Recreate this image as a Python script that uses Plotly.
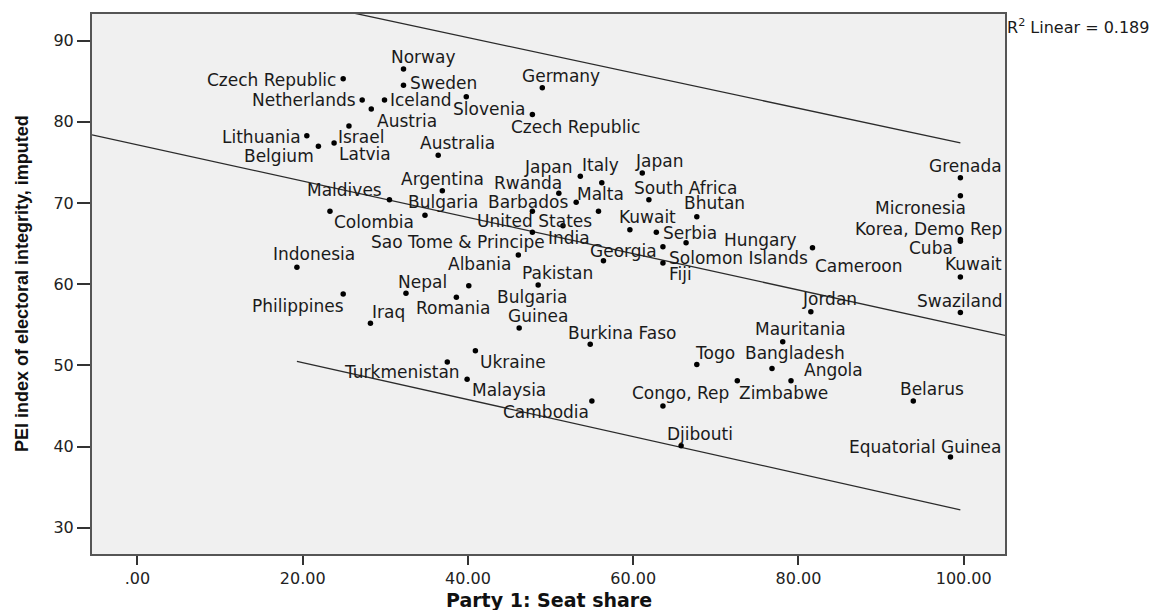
import plotly.graph_objects as go

# ---------------- data ----------------
countries = [
    "Norway", "Czech Republic", "Sweden", "Netherlands", "Iceland", "Slovenia",
    "Austria", "Czech Republic", "Germany", "Lithuania", "Israel", "Belgium",
    "Latvia", "Australia", "Argentina", "Maldives", "Bulgaria", "Barbados",
    "Colombia", "Japan", "Italy", "Rwanda", "Malta", "United States", "India",
    "Sao Tome & Principe", "Japan", "South Africa", "Bhutan", "Kuwait", "Serbia",
    "Hungary", "Georgia", "Solomon Islands", "Fiji", "Cameroon", "Indonesia",
    "Albania", "Pakistan", "Nepal", "Romania", "Bulgaria", "Philippines", "Iraq",
    "Guinea", "Burkina Faso", "Ukraine", "Turkmenistan", "Malaysia", "Cambodia",
    "Grenada", "Micronesia", "Korea, Demo Rep", "Cuba", "Kuwait", "Jordan",
    "Swaziland", "Mauritania", "Togo", "Bangladesh", "Angola", "Congo, Rep",
    "Zimbabwe", "Belarus", "Djibouti", "Equatorial Guinea",
]
seat_share = [
    32.2, 24.9, 32.2, 27.2, 29.9, 39.8,
    28.3, 47.8, 49.0, 20.5, 25.6, 21.9,
    23.8, 36.4, 36.9, 30.5, 34.8, 53.1,
    23.3, 53.6, 56.2, 51.0, 55.8, 47.8, 51.5,
    47.8, 61.1, 61.9, 67.7, 59.6, 62.8,
    66.4, 56.4, 63.6, 63.6, 81.7, 19.3,
    46.1, 48.5, 32.5, 38.6, 40.1, 24.9, 28.2,
    46.2, 54.8, 40.9, 37.5, 39.9, 55.0,
    99.6, 99.6, 99.6, 99.6, 99.6, 81.5,
    99.6, 78.1, 67.7, 76.8, 79.1, 63.6,
    72.6, 93.9, 65.8, 98.4,
]
pei_index = [
    86.5, 85.3, 84.5, 82.7, 82.7, 83.1,
    81.6, 80.9, 84.2, 78.3, 79.5, 77.0,
    77.4, 75.9, 71.5, 70.4, 68.5, 70.1,
    69.0, 73.3, 72.5, 71.2, 69.0, 69.0, 67.2,
    66.4, 73.7, 70.4, 68.3, 66.7, 66.4,
    65.1, 62.9, 64.6, 62.6, 64.5, 62.1,
    63.6, 59.9, 58.9, 58.4, 59.8, 58.8, 55.2,
    54.6, 52.6, 51.8, 50.4, 48.3, 45.6,
    73.1, 70.9, 65.5, 65.3, 60.9, 56.6,
    56.5, 52.9, 50.1, 49.6, 48.1, 45.0,
    48.1, 45.6, 40.1, 38.7,
]

# fit line and prediction-interval lines
fit_x = [-5.5, 105.0]
fit_y = [78.4, 53.7]
upper_x = [19.3, 99.6]
upper_y = [94.9, 77.4]
lower_x = [19.3, 99.6]
lower_y = [50.5, 32.2]
r2_value = 0.189

x_tickvals = [0, 20, 40, 60, 80, 100]
x_ticktext = [".00", "20.00", "40.00", "60.00", "80.00", "100.00"]
y_tickvals = [30, 40, 50, 60, 70, 80, 90]

# ---------------- label placement style (pixel offsets from each dot) ----
# (anchor, dx, dy) : anchor = which edge of the label sits at dot+dx; dy is downward px
label_style = [
    ("c", 20, -12), ("r", -5, 1), ("l", 5, -2), ("r", -4, 0), ("l", 4, 0), ("c", 23, 12),
    ("l", 4, 12), ("c", 43, 12), ("c", 19, -12), ("r", -4, 1), ("c", 12, 11), ("c", -39, 10),
    ("c", 31, 11), ("c", 19, -12), ("c", 0, -12), ("c", -45, -10), ("c", 19, -13), ("r", -6, 0),
    ("l", 2, 11), ("r", -6, -9), ("c", -1, -18), ("c", -31, -10), ("c", 2, -17), ("c", 2, 10), ("c", 6, 12),
    ("r", 15, 10), ("c", 17, -12), ("c", 37, -12), ("c", 18, -14), ("c", 18, -13), ("l", 5, 1),
    ("l", 36, -3), ("c", 20, -10), ("l", 4, 11), ("l", 4, 11), ("l", 1, 18), ("c", 17, -13),
    ("r", -5, 9), ("c", 19, -12), ("c", 17, -11), ("c", -3, 11), ("l", 26, 11), ("r", 3, 12), ("c", 18, -11),
    ("c", 19, -12), ("c", 32, -11), ("l", 3, 11), ("r", 15, 10), ("l", 3, 11), ("r", -1, 11),
    ("r", 44, -12), ("r", 8, 12), ("r", 44, -11), ("r", -5, 7), ("r", 44, -13), ("c", 19, -13),
    ("r", 44, -12), ("c", 18, -13), ("c", 18, -12), ("c", 23, -16), ("l", 11, -11), ("c", 18, -13),
    ("l", 0, 12), ("c", 19, -12), ("c", 19, -12), ("r", 53, -10),
]

LABEL_FONT = dict(family="DejaVu Sans, Liberation Sans, Arial", size=17, color="#1a1a1a")
LINE_COLOR = "#2b2b2b"

fig = go.Figure()

fig.add_trace(go.Scatter(x=fit_x, y=fit_y, mode="lines",
                         line=dict(color=LINE_COLOR, width=1.3), hoverinfo="skip",
                         showlegend=False))
fig.add_trace(go.Scatter(x=upper_x, y=upper_y, mode="lines",
                         line=dict(color=LINE_COLOR, width=1.3), hoverinfo="skip",
                         showlegend=False))
fig.add_trace(go.Scatter(x=lower_x, y=lower_y, mode="lines",
                         line=dict(color=LINE_COLOR, width=1.3), hoverinfo="skip",
                         showlegend=False))
fig.add_trace(go.Scatter(x=seat_share, y=pei_index, mode="markers",
                         marker=dict(color="black", size=5.5),
                         text=countries, hoverinfo="skip", showlegend=False))

anchor_map = {"l": "left", "c": "center", "r": "right"}
for name, xv, yv, (anc, dx, dy) in zip(countries, seat_share, pei_index, label_style):
    fig.add_annotation(x=xv, y=yv, xref="x", yref="y", text=name, showarrow=False,
                       xanchor=anchor_map[anc], yanchor="middle",
                       xshift=dx, yshift=-dy, font=LABEL_FONT)

# R squared note
fig.add_annotation(xref="paper", yref="paper", x=1.0, y=1.0, xanchor="left", yanchor="top",
                   xshift=0, yshift=0,
                   text=f"R<sup>2</sup> Linear = {r2_value}", showarrow=False,
                   font=dict(family="DejaVu Sans, Liberation Sans, Arial", size=16, color="#1a1a1a"))

# axis titles
fig.add_annotation(xref="paper", yref="paper", x=0.5, y=0, yanchor="middle", xanchor="center",
                   yshift=-46, text="<b>Party 1: Seat share</b>", showarrow=False,
                   font=dict(family="DejaVu Sans, Liberation Sans, Arial", size=19, color="#111"))
fig.add_annotation(xref="paper", yref="paper", x=0, y=0.5, xanchor="center", yanchor="middle",
                   xshift=-70, textangle=-90,
                   text="<b>PEI index of electoral integrity, imputed</b>", showarrow=False,
                   font=dict(family="Liberation Sans, Arial", size=18, color="#111"))

fig.update_layout(
    width=1176, height=610,
    margin=dict(l=92, r=171, t=14, b=56),
    paper_bgcolor="white", plot_bgcolor="#f0f0f0",
    showlegend=False, hovermode=False,
)
fig.update_xaxes(range=[-5.5, 105.0], tickvals=x_tickvals, ticktext=x_ticktext,
                 showgrid=False, zeroline=False, showline=True, mirror=True,
                 linecolor="#555", linewidth=2, ticks="outside", ticklen=9, tickwidth=2,
                 tickcolor="#333",
                 tickfont=dict(family="DejaVu Sans, Liberation Sans, Arial", size=16, color="#222"))
fig.update_yaxes(range=[26.76, 93.29], tickvals=y_tickvals,
                 showgrid=False, zeroline=False, showline=True, mirror=True,
                 linecolor="#555", linewidth=2, ticks="outside", ticklen=13, tickwidth=1.5,
                 tickcolor="#333",
                 tickfont=dict(family="DejaVu Sans, Liberation Sans, Arial", size=16, color="#222"))

# remove the browser's default 8px body margin so the figure fills the window exactly
fig.write_html("out.html",
               config={"displayModeBar": False},
               post_script="document.body.style.margin='0px';document.body.style.overflow='hidden';")
